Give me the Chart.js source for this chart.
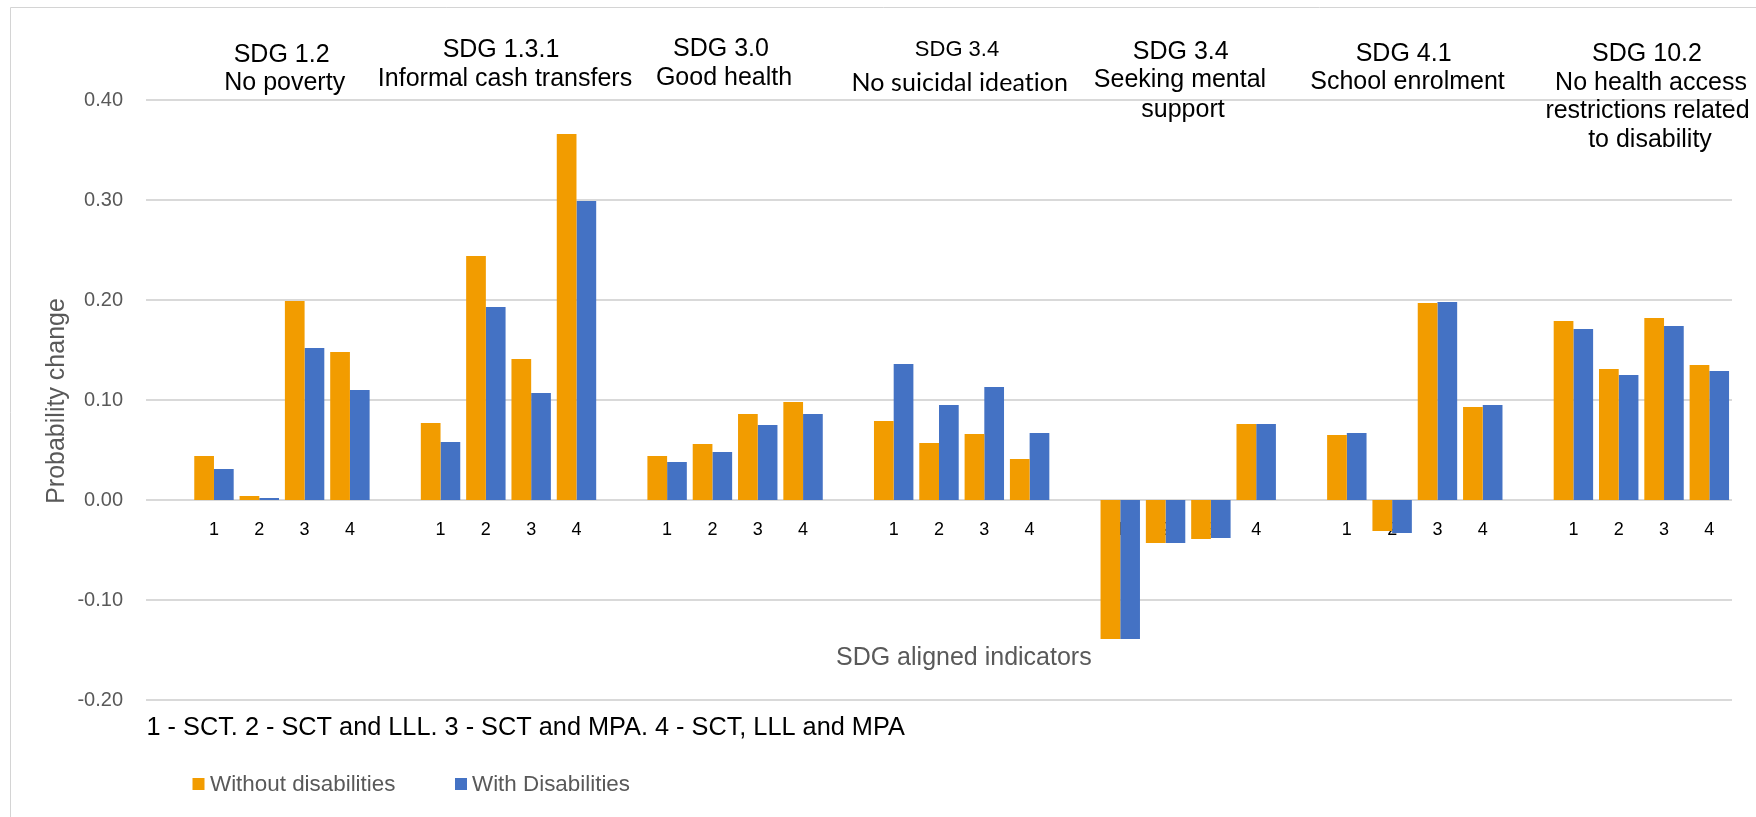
<!DOCTYPE html>
<html>
<head>
<meta charset="utf-8">
<script src="https://cdn.jsdelivr.net/npm/chart.js@4.4.0/dist/chart.umd.min.js"></script>
<style>
html,body{margin:0;padding:0;background:#fff;}
#wrap{position:relative;width:1756px;height:817px;}
canvas{display:block;}
</style>
</head>
<body>
<div id="wrap"><canvas id="c" width="1756" height="817"></canvas></div>
<script>
// ---------------- DATA ----------------
const groupTitles = [
  ['SDG 1.2', 'No poverty'],
  ['SDG 1.3.1', 'Informal cash transfers'],
  ['SDG 3.0', 'Good health'],
  ['SDG 3.4', 'No suicidal ideation'],
  ['SDG 3.4', 'Seeking mental', 'support'],
  ['SDG 4.1', 'School enrolment'],
  ['SDG 10.2', 'No health access', 'restrictions related', 'to disability']
];
const variantLabels = ['1', '2', '3', '4'];
const seriesNames = ['Without disabilities', 'With Disabilities'];
// 7 groups x 4 variants
const withoutDisabilities = [
  0.044, 0.004, 0.199, 0.148,
  0.077, 0.244, 0.141, 0.366,
  0.044, 0.056, 0.086, 0.098,
  0.079, 0.057, 0.066, 0.041,
  -0.139, -0.043, -0.039, 0.076,
  0.065, -0.031, 0.197, 0.093,
  0.179, 0.131, 0.182, 0.135
];
const withDisabilities = [
  0.031, 0.002, 0.152, 0.110,
  0.058, 0.193, 0.107, 0.299,
  0.038, 0.048, 0.075, 0.086,
  0.136, 0.095, 0.113, 0.067,
  -0.139, -0.043, -0.038, 0.076,
  0.067, -0.033, 0.198, 0.095,
  0.171, 0.125, 0.174, 0.129
];
const yMin = -0.2, yMax = 0.4, yStep = 0.1;
const yAxisTitle = 'Probability change';
const xAxisTitle = 'SDG aligned indicators';
const footnote = '1 - SCT. 2 - SCT and LLL. 3 - SCT and MPA. 4 - SCT, LLL and MPA';

// ---------------- STYLE / LAYOUT ----------------
const seriesColors = ['#F29C00', '#4472C4'];
const ARIAL = '"Liberation Sans", Arial, sans-serif';
const titleLayout = [
  {x: [281.6, 284.7], y: [61.7, 90]},
  {x: [501, 505], y: [57.3, 86]},
  {x: [721, 724], y: [56, 85]},
  {x: [957, 960], y: [55.7, 90.7], fonts: ['22px ' + ARIAL, {family: 'Lato, "Open Sans", sans-serif', size: 25, fit: 217}]},
  {x: [1180.7, 1180, 1183], y: [59.3, 87.3, 116.7]},
  {x: [1403.6, 1407.5], y: [60.7, 89.3]},
  {x: [1647, 1651, 1647.5, 1650], y: [61, 90, 118.3, 146.7]}
];

// build category table (blank spacer slot before each group)
const labels = [], dataWithout = [], dataWith = [];
groupTitles.forEach((g, gi) => {
  labels.push(''); dataWithout.push(null); dataWith.push(null);
  variantLabels.forEach((v, vi) => {
    labels.push(v);
    dataWithout.push(withoutDisabilities[gi * 4 + vi]);
    dataWith.push(withDisabilities[gi * 4 + vi]);
  });
});

const decor = {
  id: 'decor',
  beforeDraw(chart) {
    const ctx = chart.ctx;
    ctx.save();
    ctx.fillStyle = '#fff';
    ctx.fillRect(0, 0, chart.width, chart.height);
    ctx.restore();
  },
  afterDraw(chart) {
    const ctx = chart.ctx;
    ctx.save();
    // frame (only top/left visible)
    ctx.strokeStyle = '#D4D4D4';
    ctx.lineWidth = 1;
    ctx.beginPath();
    ctx.moveTo(10.5, chart.height);
    ctx.lineTo(10.5, 7.5);
    ctx.lineTo(chart.width, 7.5);
    ctx.stroke();

    // group titles
    ctx.fillStyle = '#000';
    ctx.textBaseline = 'alphabetic';
    groupTitles.forEach((lines, gi) => {
      const L = titleLayout[gi];
      lines.forEach((s, li) => {
        const f = L.fonts ? L.fonts[li] : '25px ' + ARIAL;
        if (typeof f === 'string') {
          ctx.font = f;
          ctx.textAlign = 'center';
          ctx.letterSpacing = '0px';
          ctx.fillText(s, L.x[li], L.y[li]);
        } else {
          ctx.font = f.size + 'px ' + f.family;
          ctx.letterSpacing = '0px';
          const w = ctx.measureText(s).width;
          const sp = (f.fit - w) / (s.length - 1);
          ctx.letterSpacing = sp + 'px';
          ctx.textAlign = 'left';
          ctx.fillText(s, L.x[li] - f.fit / 2, L.y[li]);
          ctx.letterSpacing = '0px';
        }
      });
    });

    // x axis title
    ctx.textAlign = 'left';
    ctx.fillStyle = '#595959';
    ctx.font = '25px ' + ARIAL;
    ctx.fillText(xAxisTitle, 836, 665);

    // footnote
    ctx.fillStyle = '#000';
    ctx.font = '25.3px ' + ARIAL;
    ctx.fillText(footnote, 146.5, 735);

    // y axis title
    ctx.save();
    ctx.translate(64, 401);
    ctx.rotate(-Math.PI / 2);
    ctx.textAlign = 'center';
    ctx.fillStyle = '#595959';
    ctx.font = '25px ' + ARIAL;
    ctx.fillText(yAxisTitle, 0, 0);
    ctx.restore();

    // legend
    const legendItems = [{x: 192.5, tx: 210}, {x: 455, tx: 472}];
    ctx.font = '22.4px ' + ARIAL;
    ctx.textBaseline = 'middle';
    legendItems.forEach((it, i) => {
      ctx.fillStyle = seriesColors[i];
      ctx.fillRect(it.x, 778, 12, 12);
      ctx.fillStyle = '#595959';
      ctx.fillText(seriesNames[i], it.tx, 785);
    });
    ctx.restore();
  }
};

new Chart(document.getElementById('c'), {
  type: 'bar',
  data: {
    labels: labels,
    datasets: [
      {label: seriesNames[0], data: dataWithout, backgroundColor: seriesColors[0], borderWidth: 0,
       categoryPercentage: 0.87, barPercentage: 1.0},
      {label: seriesNames[1], data: dataWith, backgroundColor: seriesColors[1], borderWidth: 0,
       categoryPercentage: 0.87, barPercentage: 1.0}
    ]
  },
  options: {
    responsive: false,
    animation: false,
    devicePixelRatio: 1,
    layout: {padding: {left: 0, top: 100, right: 24, bottom: 117}},
    plugins: {legend: {display: false}, tooltip: {enabled: false}, title: {display: false}},
    scales: {
      x: {
        position: {y: 0},
        z: 1,
        grid: {display: false, drawTicks: false, tickLength: 0},
        border: {display: false},
        ticks: {autoSkip: false, maxRotation: 0, minRotation: 0, color: '#000',
                font: {family: 'Liberation Sans', size: 18}, padding: 19}
      },
      y: {
        min: yMin, max: yMax,
        grid: {color: '#D9D9D9', lineWidth: 2, drawTicks: false, tickLength: 0},
        border: {display: false},
        ticks: {stepSize: yStep, color: '#595959', font: {family: 'Liberation Sans', size: 20}, padding: 23,
                callback: v => (Math.abs(v) < 1e-9 ? 0 : v).toFixed(2)},
        afterFit: s => { s.width = 146; }
      }
    }
  },
  plugins: [decor]
});
</script>
</body>
</html>
